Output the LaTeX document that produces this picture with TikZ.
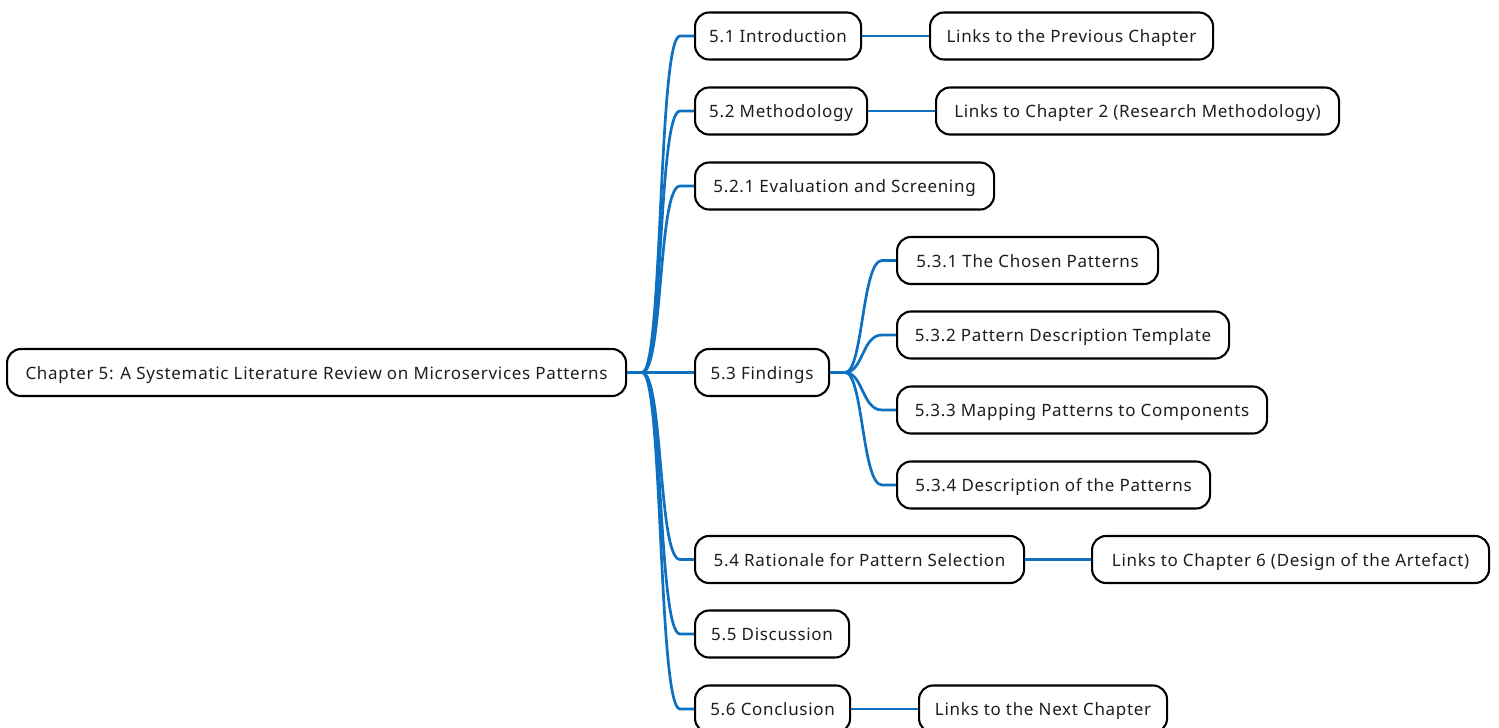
\documentclass[tikz,border=0pt]{standalone}
\usepackage{fontspec}
\setmainfont{Noto Sans}[LetterSpace=4]
\usetikzlibrary{calc}
\definecolor{branch}{RGB}{14,112,192}
\definecolor{ink}{RGB}{30,30,30}
\begin{document}
\begin{tikzpicture}[x=1pt,y=-1pt,
  topic/.style={draw=black, line width=2.1pt, rounded corners=14pt, fill=white,
    minimum height=47pt, inner xsep=0pt, anchor=west, text=ink,
    text height=14pt, text depth=1pt,
    font=\fontsize{17}{20}\selectfont},
  branchline/.style={draw=branch, line width=2.7pt}]
\useasboundingbox (0,0) rectangle (1499,728);

% ---- nodes (left edge, centre line, width) ----
\node[topic, minimum width=619pt] (root) at (6,372.5) {Chapter 5: A Systematic Literature Review on Microservices Patterns};

\node[topic, minimum width=166pt] (s51) at (694,36) {5.1 Introduction};
\node[topic, minimum width=283pt] (l51) at (929,36) {Links to the Previous Chapter};
\node[topic, minimum width=172pt] (s52) at (694,111) {5.2 Methodology};
\node[topic, minimum width=403pt] (l52) at (935,111) {Links to Chapter 2 (Research Methodology)};
\node[topic, minimum width=299pt] (s521) at (694,186) {5.2.1 Evaluation and Screening};
\node[topic, minimum width=134pt] (s53) at (694,372.5) {5.3 Findings};
\node[topic, minimum width=261pt] (s531) at (896,260.5) {5.3.1 The Chosen Patterns};
\node[topic, minimum width=332pt] (s532) at (896,335) {5.3.2 Pattern Description Template};
\node[topic, minimum width=370pt] (s533) at (896,410) {5.3.3 Mapping Patterns to Components};
\node[topic, minimum width=313pt] (s534) at (896,485) {5.3.4 Description of the Patterns};
\node[topic, minimum width=329pt] (s54) at (694,559.5) {5.4 Rationale for Pattern Selection};
\node[topic, minimum width=397pt] (l54) at (1091,559.5) {Links to Chapter 6 (Design of the Artefact)};
\node[topic, minimum width=154pt] (s55) at (694,634) {5.5 Discussion};
\node[topic, minimum width=155pt] (s56) at (694,709) {5.6 Conclusion};
\node[topic, minimum width=248pt] (l56) at (918,709) {Links to the Next Chapter};

% ---- branches from the chapter node ----
\begin{scope}[on background layer/.try]
\foreach \c in {s51,s52,s521,s54,s55,s56}{
  \draw[branchline] (root.east) -- ++(15,0)
    .. controls +(21,0) and ($(\c.west)+(-36,0)$) .. ($(\c.west)+(-14,0)$) -- (\c.west);
}
\draw[branchline] (root.east) -- (s53.west);

% ---- branches from Findings ----
\foreach \c in {s531,s532,s533,s534}{
  \draw[branchline] (s53.east) -- ++(15,0)
    .. controls +(18,0) and ($(\c.west)+(-34,0)$) .. ($(\c.west)+(-14,0)$) -- (\c.west);
}

% ---- links to other chapters ----
\draw[branchline] (s51.east) -- (l51.west);
\draw[branchline] (s52.east) -- (l52.west);
\draw[branchline] (s54.east) -- (l54.west);
\draw[branchline] (s56.east) -- (l56.west);
\end{scope}
\end{tikzpicture}
\end{document}
